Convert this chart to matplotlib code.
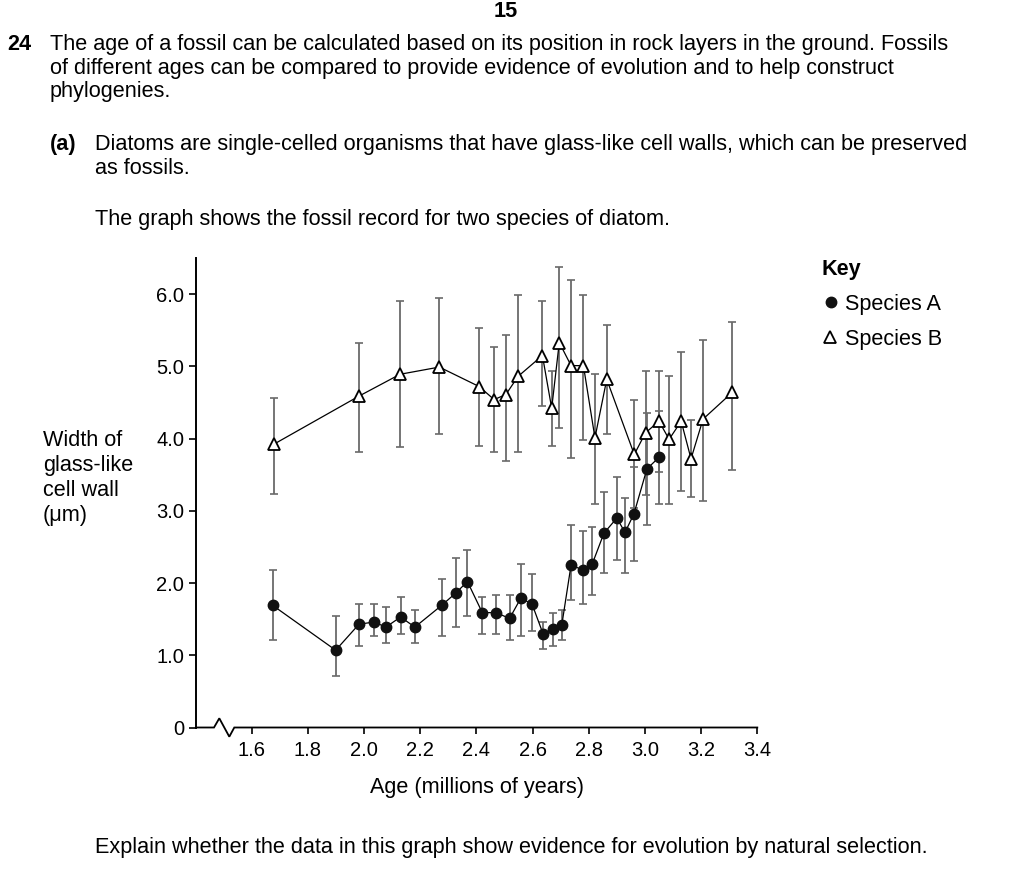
import matplotlib
matplotlib.use("Agg")
import matplotlib.pyplot as plt
from matplotlib.lines import Line2D

plt.rcParams['font.family'] = ['Liberation Sans', 'DejaVu Sans']

# ---------------- data ----------------
age_a = [1.675, 1.899, 1.982, 2.035, 2.078, 2.130, 2.181, 2.276, 2.326, 2.368, 2.421, 2.470, 2.518,
         2.558, 2.598, 2.637, 2.672, 2.704, 2.737, 2.779, 2.813, 2.854, 2.900, 2.929, 2.961, 3.007, 3.050]
width_a = [1.69, 1.07, 1.43, 1.46, 1.39, 1.53, 1.39, 1.69, 1.86, 2.02, 1.59, 1.59, 1.51,
           1.79, 1.71, 1.30, 1.36, 1.42, 2.25, 2.18, 2.27, 2.69, 2.90, 2.70, 2.96, 3.58, 3.74]
upper_a = [2.18, 1.55, 1.71, 1.71, 1.67, 1.80, 1.63, 2.05, 2.34, 2.46, 1.80, 1.84, 1.84,
           2.26, 2.13, 1.46, 1.59, 1.62, 2.81, 2.72, 2.77, 3.26, 3.47, 3.18, 3.60, 4.35, 4.38]
lower_a = [1.21, 0.71, 1.13, 1.26, 1.17, 1.30, 1.17, 1.26, 1.39, 1.55, 1.30, 1.30, 1.21,
           1.26, 1.34, 1.08, 1.13, 1.21, 1.76, 1.71, 1.84, 2.14, 2.32, 2.14, 2.31, 2.81, 3.10]

age_b = [1.678, 1.983, 2.128, 2.268, 2.410, 2.463, 2.505, 2.548, 2.635, 2.668, 2.695, 2.737,
         2.781, 2.822, 2.864, 2.962, 3.002, 3.050, 3.086, 3.129, 3.164, 3.207, 3.311]
width_b = [3.92, 4.59, 4.89, 4.99, 4.72, 4.54, 4.61, 4.86, 5.15, 4.42, 5.33, 5.01,
           5.01, 4.01, 4.82, 3.78, 4.08, 4.24, 3.99, 4.24, 3.72, 4.27, 4.64]
upper_b = [4.56, 5.32, 5.91, 5.94, 5.53, 5.27, 5.44, 5.99, 5.90, 4.94, 6.37, 6.20,
           5.99, 4.90, 5.57, 4.53, 4.94, 4.94, 4.86, 5.20, 4.26, 5.37, 5.61]
lower_b = [3.23, 3.82, 3.89, 4.07, 3.90, 3.82, 3.69, 3.82, 4.45, 3.90, 4.15, 3.73,
           3.98, 3.10, 4.07, 3.04, 3.22, 3.54, 3.10, 3.27, 3.19, 3.14, 3.57]

x_ticks = [1.6, 1.8, 2.0, 2.2, 2.4, 2.6, 2.8, 3.0, 3.2, 3.4]
x_tick_labels = ["1.6", "1.8", "2.0", "2.2", "2.4", "2.6", "2.8", "3.0", "3.2", "3.4"]
y_ticks = [0, 1, 2, 3, 4, 5, 6]
y_tick_labels = ["0", "1.0", "2.0", "3.0", "4.0", "5.0", "6.0"]

# ---------------- figure ----------------
W, H = 1012, 869
fig = plt.figure(figsize=(W / 100, H / 100), dpi=100)
fig.patch.set_facecolor('white')

FS = 15.6
TFS = 14.5


def txt(x, y, s, **kw):
    kw.setdefault('fontsize', FS)
    kw.setdefault('va', 'baseline')
    fig.text(x / W, 1 - y / H, s, **kw)


# page text
txt(506, 17, "15", ha='center', fontweight='bold')
txt(7, 50, "24", fontweight='bold')
txt(50, 50, "The age of a fossil can be calculated based on its position in rock layers in the ground. Fossils")
txt(50, 74, "of different ages can be compared to provide evidence of evolution and to help construct")
txt(50, 97, "phylogenies.")
txt(50, 150, "(a)", fontweight='bold')
txt(95, 150, "Diatoms are single-celled organisms that have glass-like cell walls, which can be preserved")
txt(95, 174, "as fossils.")
txt(95, 225, "The graph shows the fossil record for two species of diatom.")
txt(95, 853, "Explain whether the data in this graph show evidence for evolution by natural selection.")

# y label lines
txt(43, 446, "Width of")
txt(43, 471, "glass-like")
txt(43, 496, "cell wall")
txt(43, 521, "(\u03bcm)")

# axes
x_left_px, x_right_px = 196, 757.3
y_bot_px, y_top_px = 727.5, 258
ax = fig.add_axes([x_left_px / W, 1 - y_bot_px / H,
                   (x_right_px - x_left_px) / W, (y_bot_px - y_top_px) / H])
ax.set_facecolor('none')
xmin = 1.6 - (251.7 - x_left_px) / 280.9
ax.set_xlim(xmin, 3.4)
ax.set_ylim(0, 6.5)

for s in ['top', 'right', 'bottom']:
    ax.spines[s].set_visible(False)
ax.spines['left'].set_linewidth(1.4)

ax.set_xticks(x_ticks)
ax.set_xticklabels(x_tick_labels, fontsize=TFS)
ax.set_yticks(y_ticks)
ax.set_yticklabels(y_tick_labels, fontsize=TFS)
ax.tick_params(axis='y', direction='out', length=5, width=1.2, pad=3.5)
ax.tick_params(axis='x', direction='out', length=4, width=1.2, pad=6)

# x-axis line with break symbol
px = 1 / 280.9
py = 1 / 72.2
bx = [xmin, xmin + 18 * px, xmin + 23.3 * px, xmin + 33.3 * px, xmin + 38.3 * px, 3.4]
by = [0, 0, 9.2 * py, -9.2 * py, 0, 0]
ax.plot(bx, by, color='black', lw=1.3, clip_on=False, solid_joinstyle='miter', zorder=5)

ax.set_xlabel("Age (millions of years)", fontsize=FS, labelpad=12)

err_kw = dict(fmt='none', ecolor='#6a6a6a', elinewidth=1.3, capsize=3, capthick=1.2, zorder=2)
ax.errorbar(age_a, width_a,
            yerr=[[w - l for w, l in zip(width_a, lower_a)], [u - w for w, u in zip(width_a, upper_a)]],
            **err_kw)
ax.errorbar(age_b, width_b,
            yerr=[[w - l for w, l in zip(width_b, lower_b)], [u - w for w, u in zip(width_b, upper_b)]],
            **err_kw)

ax.plot(age_a, width_a, color='black', lw=0.9, marker='o', ms=7.5, mfc='#111111', mec='#111111', zorder=4)
ax.plot(age_b, width_b, color='black', lw=0.9, marker='^', ms=9, mfc='white', mec='black', mew=1.3, zorder=4)

# key
txt(822, 275, "Key", fontweight='bold')
fig.add_artist(Line2D([831 / W], [1 - 302 / H], marker='o', ms=7.5, color='#111111', ls='none'))
txt(845, 310, "Species A")
fig.add_artist(Line2D([830 / W], [1 - 337 / H], marker='^', ms=9, mfc='white', mec='black', mew=1.3, ls='none'))
txt(845, 345, "Species B")

fig.savefig("out.png", dpi=100)
